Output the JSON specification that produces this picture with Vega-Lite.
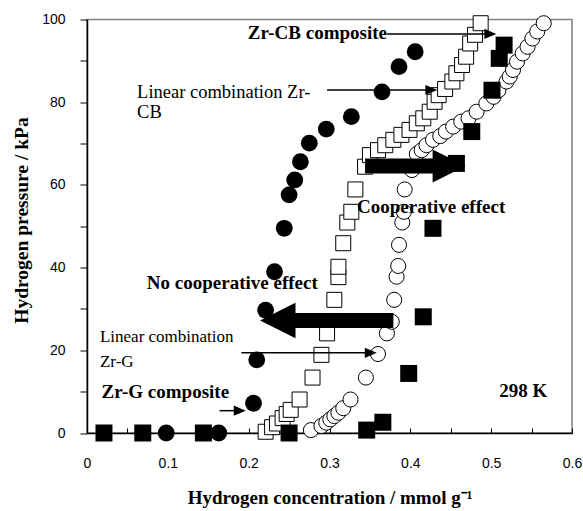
{
  "$schema": "https://vega.github.io/schema/vega-lite/v6.json",
  "width": 485,
  "height": 413.5,
  "autosize": {"type": "none"},
  "padding": {"left": 87, "top": 19.5, "right": 11, "bottom": 78},
  "background": "white",
  "config": {
    "view": {"stroke": "#808080", "strokeWidth": 1.5},
    "text": {"font": "Liberation Serif", "color": "black"}
  },
  "datasets": {
    "cbc": [
      {"x": 0.021, "y": 0}, {"x": 0.069, "y": 0}, {"x": 0.144, "y": 0}, {"x": 0.25, "y": 0},
      {"x": 0.346, "y": 0.7}, {"x": 0.366, "y": 2.6}, {"x": 0.398, "y": 14.4}, {"x": 0.416, "y": 28.1},
      {"x": 0.428, "y": 49.5}, {"x": 0.457, "y": 65.2}, {"x": 0.476, "y": 72.9}, {"x": 0.501, "y": 82.9},
      {"x": 0.51, "y": 90.6}, {"x": 0.516, "y": 93.8}
    ],
    "gc": [
      {"x": 0.098, "y": 0}, {"x": 0.163, "y": 0}, {"x": 0.206, "y": 7.2}, {"x": 0.21, "y": 17.7},
      {"x": 0.221, "y": 29.7}, {"x": 0.232, "y": 39.0}, {"x": 0.244, "y": 49.5}, {"x": 0.25, "y": 57.6},
      {"x": 0.257, "y": 61.2}, {"x": 0.264, "y": 65.6}, {"x": 0.275, "y": 70.1}, {"x": 0.296, "y": 73.5},
      {"x": 0.327, "y": 76.5}, {"x": 0.365, "y": 82.5}, {"x": 0.386, "y": 88.6}, {"x": 0.406, "y": 92.2}
    ],
    "lcb": [
      {"x": 0.221, "y": 0.3}, {"x": 0.229, "y": 1.4}, {"x": 0.235, "y": 2.3}, {"x": 0.242, "y": 3.6},
      {"x": 0.247, "y": 4.6}, {"x": 0.252, "y": 5.6}, {"x": 0.263, "y": 8.1}, {"x": 0.279, "y": 13.4},
      {"x": 0.29, "y": 18.9}, {"x": 0.297, "y": 24.1}, {"x": 0.306, "y": 32.2}, {"x": 0.311, "y": 37.7},
      {"x": 0.311, "y": 40.2}, {"x": 0.317, "y": 45.9}, {"x": 0.322, "y": 50.9}, {"x": 0.327, "y": 53.5},
      {"x": 0.332, "y": 58.9}, {"x": 0.344, "y": 64.4}, {"x": 0.35, "y": 67.2}, {"x": 0.36, "y": 68.4},
      {"x": 0.369, "y": 69.6}, {"x": 0.379, "y": 70.9}, {"x": 0.389, "y": 72.1}, {"x": 0.399, "y": 73.3},
      {"x": 0.408, "y": 74.9}, {"x": 0.416, "y": 76.1}, {"x": 0.424, "y": 77.7}, {"x": 0.43, "y": 80.1},
      {"x": 0.435, "y": 81.7}, {"x": 0.443, "y": 83.2}, {"x": 0.452, "y": 85.0}, {"x": 0.457, "y": 87.0},
      {"x": 0.464, "y": 89.0}, {"x": 0.469, "y": 91.0}, {"x": 0.474, "y": 94.2}, {"x": 0.48, "y": 96.3},
      {"x": 0.487, "y": 99.1}
    ],
    "lg": [
      {"x": 0.277, "y": 0.7}, {"x": 0.29, "y": 1.7}, {"x": 0.296, "y": 2.5}, {"x": 0.301, "y": 3.3},
      {"x": 0.306, "y": 4.1}, {"x": 0.311, "y": 4.9}, {"x": 0.317, "y": 6.0}, {"x": 0.326, "y": 8.1},
      {"x": 0.345, "y": 13.4}, {"x": 0.36, "y": 19.1}, {"x": 0.371, "y": 24.1}, {"x": 0.377, "y": 26.9},
      {"x": 0.38, "y": 32.2}, {"x": 0.383, "y": 37.8}, {"x": 0.385, "y": 40.4}, {"x": 0.386, "y": 45.5},
      {"x": 0.39, "y": 50.9}, {"x": 0.392, "y": 53.5}, {"x": 0.393, "y": 58.9}, {"x": 0.402, "y": 63.6},
      {"x": 0.408, "y": 67.5}, {"x": 0.414, "y": 68.4}, {"x": 0.42, "y": 69.6}, {"x": 0.428, "y": 70.9},
      {"x": 0.437, "y": 71.8}, {"x": 0.444, "y": 72.9}, {"x": 0.453, "y": 74.1}, {"x": 0.463, "y": 75.3},
      {"x": 0.472, "y": 76.1}, {"x": 0.482, "y": 77.7}, {"x": 0.494, "y": 79.7}, {"x": 0.503, "y": 81.3},
      {"x": 0.509, "y": 82.9}, {"x": 0.519, "y": 85.0}, {"x": 0.523, "y": 86.2}, {"x": 0.527, "y": 87.8},
      {"x": 0.532, "y": 89.8}, {"x": 0.539, "y": 91.8}, {"x": 0.545, "y": 93.4}, {"x": 0.551, "y": 95.4},
      {"x": 0.557, "y": 97.1}, {"x": 0.565, "y": 99.1}
    ],
    "thick": [
      {"x": 0.255, "x2": 0.379, "y": 27.2},
      {"x": 0.344, "x2": 0.432, "y": 64.6}
    ],
    "headL": [{"x": 0.236, "y": 27.2}],
    "headR": [{"x": 0.448, "y": 64.6}],
    "thin": [
      {"x": 0.371, "x2": 0.5, "y": 96.5},
      {"x": 0.297, "x2": 0.427, "y": 82.95},
      {"x": 0.191, "x2": 0.352, "y": 19.4},
      {"x": 0.164, "x2": 0.19, "y": 5.4}
    ],
    "thinHead": [
      {"x": 0.499, "y": 96.5},
      {"x": 0.426, "y": 82.95},
      {"x": 0.351, "y": 19.4},
      {"x": 0.189, "y": 5.4}
    ],
    "boldText": [
      {"x": 0.199, "y": 96.7, "t": "Zr-CB composite"},
      {"x": 0.018, "y": 10.0, "t": "Zr-G composite"},
      {"x": 0.074, "y": 36.3, "t": "No cooperative effect"},
      {"x": 0.334, "y": 54.7, "t": "Cooperative effect"},
      {"x": 0.51, "y": 10.2, "t": "298 K"}
    ],
    "plainTextCB": [
      {"x": 0.062, "y": 82.5, "t": "Linear combination Zr-"},
      {"x": 0.062, "y": 77.6, "t": "CB"}
    ],
    "plainTextG": [
      {"x": 0.016, "y": 23.3, "t": "Linear combination"},
      {"x": 0.016, "y": 17.2, "t": "Zr-G"}
    ]
  },
  "encoding": {
    "x": {
      "field": "x",
      "type": "quantitative",
      "scale": {"domain": [0, 0.6], "nice": false, "zero": false},
      "axis": {
        "values": [0, 0.05, 0.1, 0.15, 0.2, 0.25, 0.3, 0.35, 0.4, 0.45, 0.5, 0.55, 0.6],
        "format": ".2~f",
        "labelExpr": "round(datum.value * 20) % 2 == 0 ? datum.label : ''",
        "title": "Hydrogen concentration / mmol g⁻¹",
        "titleFont": "Liberation Serif",
        "titleFontWeight": "bold",
        "titleFontSize": 19,
        "titleColor": "black",
        "titleY": 64,
        "titleBaseline": "middle",
        "labelFont": "Liberation Sans",
        "labelFontSize": 14,
        "labelColor": "black",
        "labelFlush": false,
        "labelOverlap": false,
        "tickSize": -5,
        "tickColor": "black",
        "labelPadding": 28,
        "domainColor": "black",
        "domainWidth": 1.5,
        "grid": false
      }
    },
    "y": {
      "field": "y",
      "type": "quantitative",
      "scale": {"domain": [0, 100], "nice": false},
      "axis": {
        "values": [0, 10, 20, 30, 40, 50, 60, 70, 80, 90, 100],
        "labelExpr": "round(datum.value / 10) % 2 == 0 ? datum.label : ''",
        "title": "Hydrogen pressure / kPa",
        "titleFont": "Liberation Serif",
        "titleFontWeight": "bold",
        "titleFontSize": 19.5,
        "titleColor": "black",
        "titleX": -66,
        "titleY": 200.5,
        "titleBaseline": "middle",
        "titleAlign": "center",
        "labelFont": "Liberation Sans",
        "labelFontSize": 14,
        "labelColor": "black",
        "labelFlush": false,
        "labelOverlap": false,
        "tickSize": 7,
        "tickColor": "black",
        "labelPadding": 15,
        "domainColor": "black",
        "domainWidth": 1.5,
        "grid": false
      }
    }
  },
  "layer": [
    {
      "data": {"name": "lcb"},
      "mark": {"type": "point", "shape": "square", "filled": true, "fill": "white", "stroke": "black", "strokeWidth": 1, "size": 225, "opacity": 1}
    },
    {
      "data": {"name": "lg"},
      "mark": {"type": "point", "shape": "circle", "filled": true, "fill": "white", "stroke": "black", "strokeWidth": 1, "size": 227, "opacity": 1}
    },
    {
      "data": {"name": "gc"},
      "mark": {"type": "point", "shape": "circle", "filled": true, "fill": "black", "size": 283, "opacity": 1}
    },
    {
      "data": {"name": "cbc"},
      "mark": {"type": "point", "shape": "square", "filled": true, "fill": "black", "size": 289, "opacity": 1}
    },
    {
      "data": {"name": "thick"},
      "mark": {"type": "rule", "color": "black", "strokeWidth": 15, "strokeCap": "butt"},
      "encoding": {"x2": {"field": "x2"}}
    },
    {
      "data": {"name": "headL"},
      "mark": {"type": "point", "shape": "M-1,0L1,-1L1,1Z", "filled": true, "fill": "black", "size": 1260, "opacity": 1}
    },
    {
      "data": {"name": "headR"},
      "mark": {"type": "point", "shape": "M1,0L-1,-1L-1,1Z", "filled": true, "fill": "black", "size": 1089, "opacity": 1}
    },
    {
      "data": {"name": "thin"},
      "mark": {"type": "rule", "color": "black", "strokeWidth": 1.5},
      "encoding": {"x2": {"field": "x2"}}
    },
    {
      "data": {"name": "thinHead"},
      "mark": {"type": "point", "shape": "M1,0L-1,-0.85L-1,0.85Z", "filled": true, "fill": "black", "size": 144, "opacity": 1}
    },
    {
      "data": {"name": "boldText"},
      "mark": {"type": "text", "font": "Liberation Serif", "fontWeight": "bold", "fontSize": 19, "align": "left", "baseline": "middle", "color": "black"},
      "encoding": {"text": {"field": "t"}}
    },
    {
      "data": {"name": "plainTextCB"},
      "mark": {"type": "text", "font": "Liberation Serif", "fontSize": 18.5, "align": "left", "baseline": "middle", "color": "black"},
      "encoding": {"text": {"field": "t"}}
    },
    {
      "data": {"name": "plainTextG"},
      "mark": {"type": "text", "font": "Liberation Serif", "fontSize": 17, "align": "left", "baseline": "middle", "color": "black"},
      "encoding": {"text": {"field": "t"}}
    }
  ]
}
